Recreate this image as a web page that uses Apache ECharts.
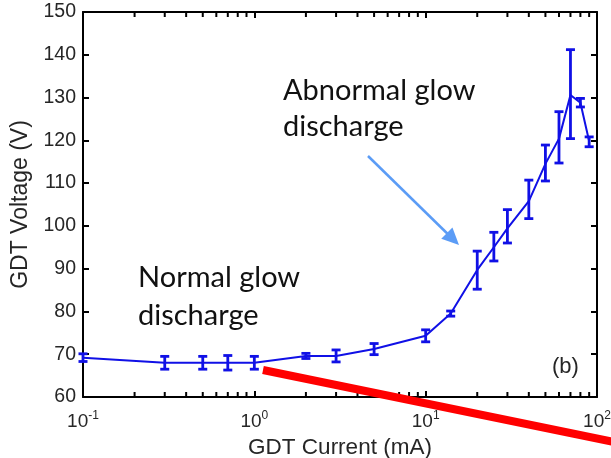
<!DOCTYPE html>
<html>
<head>
<meta charset="utf-8">
<script src="https://cdn.jsdelivr.net/npm/echarts@6/dist/echarts.min.js"></script>
<style>
  html, body { margin: 0; padding: 0; background: #ffffff; }
  #chart { width: 611px; height: 458px; }
</style>
</head>
<body>
<div id="chart"></div>
<script>
// GDT current (mA) and measured voltage (V), with error bar bounds
const currents  = [0.1, 0.3, 0.5, 0.7, 1, 2, 3, 5, 10, 14, 20, 25, 30, 40, 50, 60, 70, 80, 90];
const voltages  = [69.2, 68.0, 68.0, 68.0, 68.0, 69.6, 69.6, 71.2, 74.3, 79.5, 89.7, 95.0, 99.4, 105.8, 114.5, 120.4, 130.6, 128.8, 119.8];
const errLow    = [68.3, 66.5, 66.5, 66.3, 66.5, 69.0, 68.2, 69.9, 72.9, 78.9, 85.2, 91.8, 96.0, 101.7, 110.5, 114.7, 120.4, 127.8, 118.5];
const errHigh   = [70.1, 69.5, 69.5, 69.7, 69.5, 70.2, 71.0, 72.5, 75.7, 80.1, 94.1, 98.5, 103.8, 110.7, 118.9, 126.7, 141.2, 129.8, 120.8];

// Axis ranges and ticks
const xMin = 0.1, xMax = 100;
const yMin = 60, yMax = 150, yStep = 10;
const minorMultipliers = [2, 3, 4, 5, 6, 7, 8, 9];
const decades = [0.1, 1, 10];

const lineColor = '#1010e6';
const axisColor = '#000000';
const textColor = '#262626';
const sansFont = 'Liberation Sans, Arial, sans-serif';

const minorTicks = [];
decades.forEach(d => minorMultipliers.forEach(m => minorTicks.push([+(d * m).toPrecision(3)])));

const curve = currents.map((c, i) => [c, voltages[i]]);
const bars = currents.map((c, i) => [c, errLow[i], errHigh[i]]);

const chart = echarts.init(document.getElementById('chart'), null, { renderer: 'canvas' });

const logAxisBase = {
  type: 'log', logBase: 10, min: xMin, max: xMax,
  splitLine: { show: false },
  axisLine: { lineStyle: { color: axisColor, width: 2 } },
  axisTick: { inside: true, length: 6, lineStyle: { color: axisColor, width: 2 } }
};
const valAxisBase = {
  type: 'value', min: yMin, max: yMax, interval: yStep,
  splitLine: { show: false },
  axisLine: { show: true, lineStyle: { color: axisColor, width: 2 } },
  axisTick: { show: true, inside: true, length: 6, lineStyle: { color: axisColor, width: 2 } }
};

// arrow from the "Abnormal glow discharge" note toward the curve
const arrowFrom = [368, 156], arrowTo = [459, 245];
function arrowHead(from, to, len, half) {
  const dx = to[0] - from[0], dy = to[1] - from[1];
  const L = Math.hypot(dx, dy), ux = dx / L, uy = dy / L;
  const bx = to[0] - ux * len, by = to[1] - uy * len;
  return [[to[0], to[1]], [bx - uy * half, by + ux * half], [bx + uy * half, by - ux * half]];
}
const arrowColor = '#5b9cf6';
const headLen = 17;
const dxA = arrowTo[0] - arrowFrom[0], dyA = arrowTo[1] - arrowFrom[1], LA = Math.hypot(dxA, dyA);

chart.setOption({
  animation: false,
  backgroundColor: '#ffffff',
  textStyle: { fontFamily: sansFont },
  grid: { left: 83, right: 14, top: 12, bottom: 61, containLabel: false, outerBoundsMode: 'none' },
  xAxis: [
    Object.assign({}, logAxisBase, {
      position: 'bottom',
      name: 'GDT Current (mA)', nameLocation: 'middle', nameGap: 35,
      nameTextStyle: { fontSize: 22.5, color: textColor, fontFamily: sansFont },
      axisLabel: {
        margin: 13, color: textColor,
        formatter: v => '{b|10}{s|' + Math.round(Math.log10(v)) + '}',
        rich: {
          b: { fontSize: 19, color: textColor, fontFamily: sansFont },
          s: { fontSize: 12, color: textColor, fontFamily: sansFont, padding: [0, 0, 11, 0] }
        }
      }
    }),
    Object.assign({}, logAxisBase, { position: 'top', axisLabel: { show: false } })
  ],
  yAxis: [
    Object.assign({}, valAxisBase, {
      position: 'left',
      name: 'GDT Voltage (V)', nameLocation: 'middle', nameGap: 48,
      nameTextStyle: { fontSize: 23, color: textColor, fontFamily: sansFont },
      axisLabel: { fontSize: 19.5, color: textColor, margin: 7, fontFamily: sansFont }
    }),
    Object.assign({}, valAxisBase, { position: 'right', axisLabel: { show: false } })
  ],
  series: [
    {
      type: 'custom', name: 'minor ticks', xAxisIndex: 0, yAxisIndex: 0, silent: true,
      data: minorTicks,
      renderItem: (params, api) => {
        const b = api.coord([api.value(0), yMin]);
        const t = api.coord([api.value(0), yMax]);
        const st = { stroke: axisColor, lineWidth: 2 };
        return { type: 'group', children: [
          { type: 'line', shape: { x1: b[0], y1: b[1], x2: b[0], y2: b[1] - 5 }, style: st },
          { type: 'line', shape: { x1: t[0], y1: t[1], x2: t[0], y2: t[1] + 5 }, style: st }
        ] };
      }
    },
    {
      type: 'line', name: 'GDT voltage', data: curve,
      showSymbol: false, symbol: 'none', clip: false,
      lineStyle: { color: lineColor, width: 2 }, z: 3
    },
    {
      type: 'custom', name: 'error bars', data: bars, z: 4, clip: false,
      renderItem: (params, api) => {
        const lo = api.coord([api.value(0), api.value(1)]);
        const hi = api.coord([api.value(0), api.value(2)]);
        const w = 4.5;
        const st = { stroke: lineColor, lineWidth: 2.8 };
        return { type: 'group', children: [
          { type: 'line', shape: { x1: lo[0], y1: lo[1], x2: hi[0], y2: hi[1] }, style: st },
          { type: 'line', shape: { x1: lo[0] - w, y1: lo[1], x2: lo[0] + w, y2: lo[1] }, style: st },
          { type: 'line', shape: { x1: hi[0] - w, y1: hi[1], x2: hi[0] + w, y2: hi[1] }, style: st }
        ] };
      },
      encode: { x: 0, y: [1, 2] }
    }
  ],
  graphic: [
    { type: 'text', left: 283, top: 76, z: 10,
      style: { text: 'Abnormal glow', font: '29px Lato, "Open Sans", sans-serif', fill: '#111' } },
    { type: 'text', left: 283, top: 112, z: 10,
      style: { text: 'discharge', font: '29px Lato, "Open Sans", sans-serif', fill: '#111' } },
    { type: 'text', left: 138, top: 263, z: 10,
      style: { text: 'Normal glow', font: '29px Lato, "Open Sans", sans-serif', fill: '#111' } },
    { type: 'text', left: 138, top: 301, z: 10,
      style: { text: 'discharge', font: '29px Lato, "Open Sans", sans-serif', fill: '#111' } },
    { type: 'text', left: 552, top: 356, z: 10,
      style: { text: '(b)', font: '22px "Liberation Sans", Arial, sans-serif', fill: textColor } },
    { type: 'line', z: 10,
      shape: { x1: arrowFrom[0], y1: arrowFrom[1],
               x2: arrowTo[0] - dxA / LA * (headLen - 2), y2: arrowTo[1] - dyA / LA * (headLen - 2) },
      style: { stroke: arrowColor, lineWidth: 2.5 } },
    { type: 'polygon', z: 10,
      shape: { points: arrowHead(arrowFrom, arrowTo, headLen, 8) },
      style: { fill: arrowColor } },
    { type: 'line', z: 20,
      shape: { x1: 263, y1: 370, x2: 640, y2: 447.3 },
      style: { stroke: '#ff0000', lineWidth: 8 } }
  ]
});
</script>
</body>
</html>
